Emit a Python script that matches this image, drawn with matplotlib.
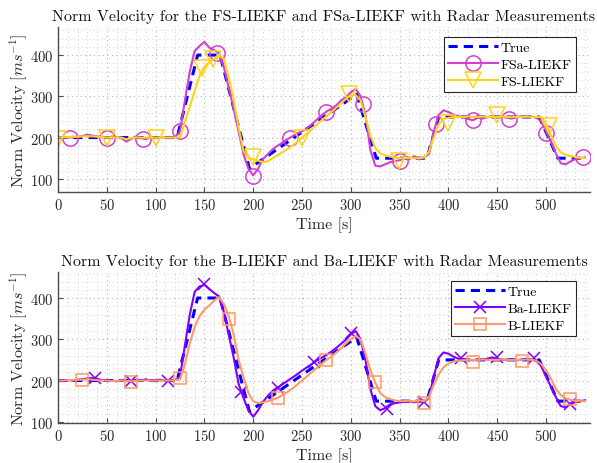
import matplotlib
matplotlib.use("Agg")
import matplotlib.pyplot as plt
from matplotlib.lines import Line2D

plt.rcParams['font.family'] = 'cmr10'
plt.rcParams['mathtext.fontset'] = 'cm'
plt.rcParams['axes.formatter.use_mathtext'] = True

# sample times of the estimated curves [s]
time_s = [0, 5, 10, 15, 20, 25, 30, 35, 40, 45, 50, 55, 60, 65, 70, 75, 80, 85, 90, 95,
          100, 105, 110, 115, 120, 125, 130, 135, 140, 145, 150, 155, 160, 165, 170, 175, 180, 185, 190, 195,
          200, 205, 210, 215, 220, 225, 230, 235, 240, 245, 250, 255, 260, 265, 270, 275, 280, 285, 290, 295,
          300, 305, 310, 315, 320, 325, 330, 335, 340, 345, 350, 355, 360, 365, 370, 375, 380, 385, 390, 395,
          400, 405, 410, 415, 420, 425, 430, 435, 440, 445, 450, 455, 460, 465, 470, 475, 480, 485, 490, 495,
          500, 505, 510, 515, 520, 525, 530, 535, 540]

# true norm velocity (breakpoints)
true_t = [0, 122, 143, 166, 196, 306, 326, 378, 390, 493, 512, 540]
true_v = [200, 200, 400, 400, 125, 305, 150, 150, 250, 250, 150, 150]

# top panel
fsa_v = [200, 201, 199, 202, 201, 204, 207, 205, 203, 201, 200, 202, 201, 199, 190, 197, 203, 199, 196, 202,
         199, 201, 200, 200, 201, 215, 290, 360, 410, 422, 432, 418, 412, 404, 370, 320, 270, 215, 160, 125,
         108, 125, 148, 160, 172, 180, 188, 196, 203, 210, 215, 222, 232, 243, 254, 263, 270, 278, 290, 298,
         310, 318, 300, 255, 170, 132, 130, 135, 140, 143, 145, 150, 148, 155, 147, 152, 160, 215, 255, 266,
         262, 256, 252, 250, 245, 242, 248, 246, 250, 252, 249, 251, 248, 246, 250, 252, 249, 251, 248, 240,
         215, 190, 162, 138, 135, 142, 148, 150, 152]
fs_v = [200, 201, 201, 202, 202, 203, 203, 203, 202, 201, 200, 200, 200, 200, 196, 199, 200, 200, 200, 200,
        200, 200, 200, 200, 200, 201, 238, 275, 313, 350, 372, 382, 392, 400, 390, 345, 290, 225, 168, 150,
        148, 144, 140, 143, 150, 157, 165, 172, 180, 190, 200, 210, 220, 231, 242, 252, 262, 272, 283, 294,
        303, 303, 290, 250, 205, 175, 162, 157, 154, 152, 150, 150, 151, 150, 150, 152, 165, 200, 232, 245,
        248, 250, 250, 250, 251, 250, 250, 251, 250, 250, 250, 251, 250, 250, 250, 250, 251, 250, 250, 250,
        235, 205, 180, 165, 158, 155, 153, 151, 150]

fsa_mark_t = [12.5, 50, 87.5, 125, 162.5, 200, 237.5, 275, 312.5, 350, 387.5, 425, 462.5, 500, 537.5]
fsa_mark_v = [200, 200, 197, 215, 405, 108, 200, 263, 282, 143, 232, 242, 246, 212, 152]
fs_mark_t = [0, 50, 100, 147.5, 159, 200, 250, 298, 349, 400, 450, 503]
fs_mark_v = [197, 200, 200, 369, 391, 153, 200, 305, 143, 235, 254, 228]

# bottom panel
ba_v = [200, 199, 201, 200, 202, 203, 205, 206, 204, 201, 199, 200, 198, 201, 199, 197, 202, 200, 203, 199,
        201, 202, 199, 200, 201, 210, 285, 360, 415, 428, 432, 422, 412, 404, 365, 310, 255, 192, 158, 128,
        112, 128, 148, 163, 175, 183, 191, 199, 207, 215, 224, 232, 240, 248, 255, 262, 270, 279, 289, 299,
        312, 320, 300, 250, 180, 138, 128, 133, 142, 145, 147, 148, 150, 147, 152, 148, 158, 210, 255, 268,
        265, 258, 253, 252, 250, 249, 251, 250, 253, 256, 252, 251, 250, 252, 249, 251, 253, 250, 248, 235,
        210, 185, 160, 138, 135, 143, 148, 150, 152]
b_v = [200, 200, 201, 201, 202, 202, 203, 202, 201, 200, 200, 199, 199, 200, 199, 198, 199, 200, 200, 200,
       200, 200, 200, 200, 201, 203, 240, 290, 330, 356, 372, 382, 394, 402, 385, 355, 310, 250, 209, 170,
       150, 145, 147, 150, 154, 158, 165, 172, 180, 190, 200, 210, 220, 230, 240, 250, 258, 268, 278, 290,
       300, 308, 300, 265, 225, 195, 170, 160, 155, 152, 150, 150, 151, 149, 152, 150, 160, 190, 215, 232,
       241, 246, 248, 249, 250, 250, 250, 251, 250, 250, 250, 251, 250, 250, 250, 250, 251, 250, 248, 240,
       225, 205, 180, 165, 157, 153, 151, 150, 150]

ba_mark_t = [37.5, 75, 112.5, 150, 187.5, 225, 262.5, 300, 337.5, 375, 412.5, 450, 487.5, 525]
ba_mark_v = [205, 198, 200, 435, 172, 183, 245, 315, 131, 147, 255, 256, 254, 143]
b_mark_t = [25, 75, 125, 175, 225, 275, 325, 375, 425, 475, 525]
b_mark_v = [202, 197, 207, 350, 157, 250, 197, 146, 245, 248, 156]

blue = '#0000ff'
magenta = '#d23fd2'
yellow = '#ffd21a'
purple = '#8000ff'
salmon = '#ff9966'


def style_axes(ax, ylim):
    ax.set_xlim(0, 545)
    ax.set_ylim(*ylim)
    ax.set_xticks([0, 50, 100, 150, 200, 250, 300, 350, 400, 450, 500])
    ax.set_yticks([100, 200, 300, 400])
    ax.minorticks_on()
    ax.grid(which='major', linestyle=(0, (1, 3)), color='#b5b5b5', linewidth=0.8)
    ax.grid(which='minor', linestyle=(0, (1, 3)), color='#cfcfcf', linewidth=0.7)
    ax.set_axisbelow(True)
    for s in ['top', 'right']:
        ax.spines[s].set_visible(False)
    for s in ['left', 'bottom']:
        ax.spines[s].set_color('#4d4d4d')
        ax.spines[s].set_linewidth(1.0)
    ax.tick_params(which='major', direction='in', length=3.5, color='#4d4d4d', labelsize=10.5,
                   labelcolor='#262626')
    ax.tick_params(which='minor', length=0)
    ax.set_xlabel('Time [s]', fontsize=11.5, color='#262626', labelpad=3)
    ax.set_ylabel(r'Norm Velocity $[ms^{-1}]$', fontsize=11.5, color='#262626', labelpad=0)


def add_legend(ax, handles, labels):
    leg = ax.legend(handles, labels, loc='upper right', bbox_to_anchor=(0.974, 0.94),
                    fontsize=10, fancybox=False, framealpha=1, edgecolor='#262626',
                    handlelength=3.6, borderpad=0.3, labelspacing=0.3,
                    handletextpad=0.2, borderaxespad=0)
    leg.get_frame().set_linewidth(0.8)


fig = plt.figure(figsize=(5.97, 4.64), dpi=100)
ax1 = fig.add_axes([0.0972, 0.584, 0.891, 0.3556])
ax2 = fig.add_axes([0.0972, 0.0862, 0.891, 0.3254])

# top panel
ax1.plot(true_t, true_v, color=blue, linestyle=(0, (3, 2)), linewidth=2.2)
ax1.plot(time_s, fsa_v, color=magenta, linewidth=1.5)
ax1.plot(fsa_mark_t, fsa_mark_v, linestyle='none', marker='o', markersize=11,
         markerfacecolor='none', markeredgecolor=magenta, markeredgewidth=1.1)
ax1.plot(time_s, fs_v, color=yellow, linewidth=1.5)
ax1.plot(fs_mark_t, fs_mark_v, linestyle='none', marker='v', markersize=11,
         markerfacecolor='none', markeredgecolor=yellow, markeredgewidth=1.1)
style_axes(ax1, (68, 468))
ax1.set_title('Norm Velocity for the FS-LIEKF and FSa-LIEKF with Radar Measurements',
              fontsize=11.5, color='#111111', pad=5)
h1 = [Line2D([], [], color=blue, linestyle=(0, (3, 2)), linewidth=2.2),
      Line2D([], [], color=magenta, linewidth=1.5, marker='o', markersize=11,
             markerfacecolor='none', markeredgewidth=1.1),
      Line2D([], [], color=yellow, linewidth=1.5, marker='v', markersize=11,
             markerfacecolor='none', markeredgewidth=1.1)]
add_legend(ax1, h1, ['True', 'FSa-LIEKF', 'FS-LIEKF'])

# bottom panel
ax2.plot(true_t, true_v, color=blue, linestyle=(0, (3, 2)), linewidth=2.2)
ax2.plot(time_s, ba_v, color=purple, linewidth=1.5)
ax2.plot(ba_mark_t, ba_mark_v, linestyle='none', marker='x', markersize=9,
         markeredgecolor=purple, markeredgewidth=1.1)
ax2.plot(time_s, b_v, color=salmon, linewidth=1.5)
ax2.plot(b_mark_t, b_mark_v, linestyle='none', marker='s', markersize=9,
         markerfacecolor='none', markeredgecolor=salmon, markeredgewidth=1.1)
style_axes(ax2, (97, 463))
ax2.set_title('Norm Velocity for the B-LIEKF and Ba-LIEKF with Radar Measurements',
              fontsize=11.5, color='#111111', pad=5)
h2 = [Line2D([], [], color=blue, linestyle=(0, (3, 2)), linewidth=2.2),
      Line2D([], [], color=purple, linewidth=1.5, marker='x', markersize=9,
             markeredgewidth=1.1),
      Line2D([], [], color=salmon, linewidth=1.5, marker='s', markersize=9,
             markerfacecolor='none', markeredgewidth=1.1)]
add_legend(ax2, h2, ['True', 'Ba-LIEKF', 'B-LIEKF'])

fig.savefig('out.png', dpi=100)
